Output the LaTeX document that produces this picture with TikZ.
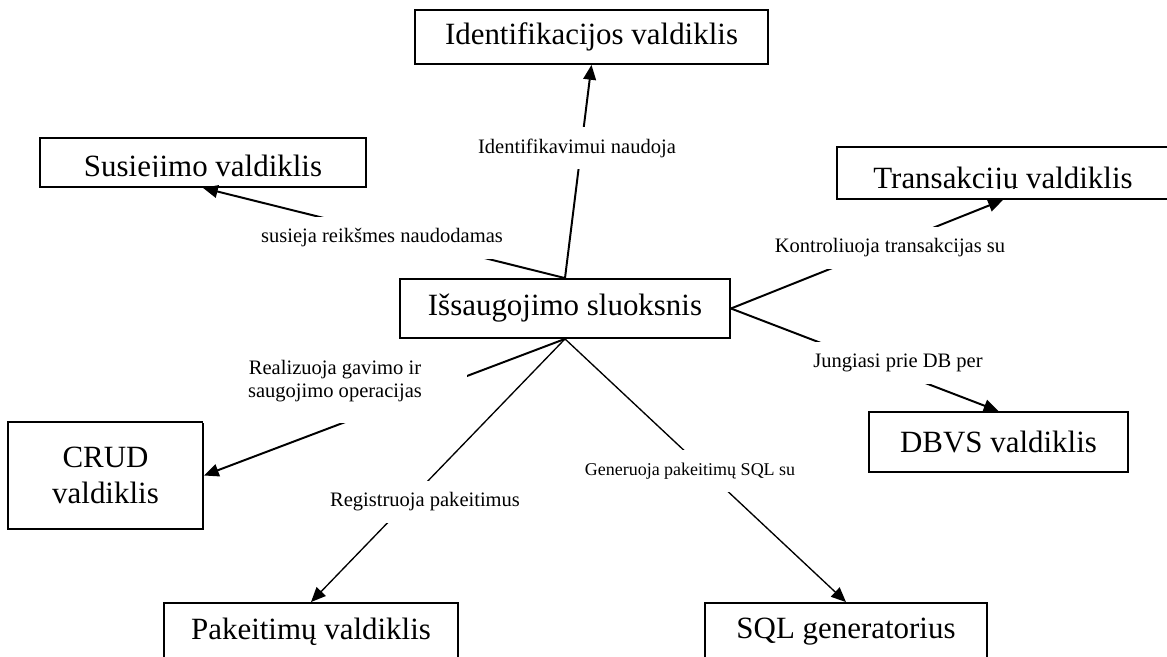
\documentclass[tikz,border=0pt]{standalone}
\usepackage{fontspec}
\setmainfont{Liberation Serif}
\usetikzlibrary{arrows.meta}

\tikzset{
  box/.style={draw, line width=1.3pt, inner sep=0pt, align=center,
    font=\fontsize{22}{26}\selectfont},
  lbl/.style={fill=white, inner xsep=3pt, inner ysep=0pt, align=center,
    minimum height=1.025cm, font=\fontsize{14.6}{16.3}\selectfont},
  link/.style={line width=1.4pt, -{Triangle[length=10.5pt, width=9pt]}},
  thinlink/.style={link, line width=0.95pt},
  % text clipped at its baseline, as in the scanned boxes
  cuttext/.style={path picture={
    \clip ([yshift=7.8pt]path picture bounding box.south west)
      rectangle (path picture bounding box.north east);
    \node[font=\fontsize{22}{26}\selectfont, anchor=base]
      at ([yshift=7.8pt]path picture bounding box.south) {#1};}},
}

\begin{document}
\begin{tikzpicture}[x=0.025cm, y=-0.025cm]
  \useasboundingbox (0,0) rectangle (1167,657);

  % Centre
  \node[box, minimum width=8.25cm, minimum height=1.475cm] (main)
    at (565,308.5) {Išsaugojimo sluoksnis};

  % Controllers round it
  \node[box, minimum width=8.825cm, minimum height=1.35cm] (ident)
    at (591.5,37) {Identifikacijos valdiklis};
  \node[box, minimum width=8.15cm, minimum height=1.225cm,
    cuttext={Susiejimo valdiklis}] (sus) at (203,162.5) {};
  \node[box, minimum width=8.3cm, minimum height=1.3cm,
    cuttext={Transakcijų valdiklis}] (trans) at (1003,173) {};
  \node[box, minimum width=6.475cm, minimum height=1.5cm] (dbvs)
    at (998.5,442) {DBVS valdiklis};
  \node[box, minimum width=4.875cm, minimum height=2.675cm] (crud)
    at (105.5,475.5) {CRUD\\valdiklis};
  \node[box, minimum width=7.35cm, minimum height=1.45cm] (pak)
    at (311,632) {Pakeitimų valdiklis};
  \node[box, minimum width=7.05cm, minimum height=1.45cm] (sql)
    at (846,632) {SQL generatorius};

  % Connectors
  \draw[link] (main.north) -- (ident.south);
  \draw[link] (main.north) -- (sus.south);
  \draw[link] (main.east) -- (trans.south);
  \draw[link] (main.east) -- (dbvs.north);
  \draw[link] (main.south) -- (crud.east);
  \draw[thinlink] (main.south) -- (pak.north);
  \draw[thinlink] (main.south) -- (sql.north);

  % Labels over the connectors
  \node[lbl] (lid) at (577,148) {Identifikavimui naudoja};
  \node[lbl, minimum width=6.25cm] (lsus) at (382,238)
    {susieja reikšmes naudodamas};
  \node[lbl] (ltrans) at (890,248) {Kontroliuoja transakcijas su};
  \node[lbl] (ldb) at (898,363) {Jungiasi prie DB per};
  \node[lbl, minimum width=6.6cm, minimum height=2.1cm] (lcrud)
    at (335,381) {Realizuoja gavimo ir\\saugojimo operacijas};
  \node[lbl] (lpak) at (425,502) {Registruoja pakeitimus};
  \node[lbl, font=\fontsize{12.8}{15}\selectfont] (lsql) at (690,471)
    {Generuoja pakeitimų SQL su};
\end{tikzpicture}
\end{document}
